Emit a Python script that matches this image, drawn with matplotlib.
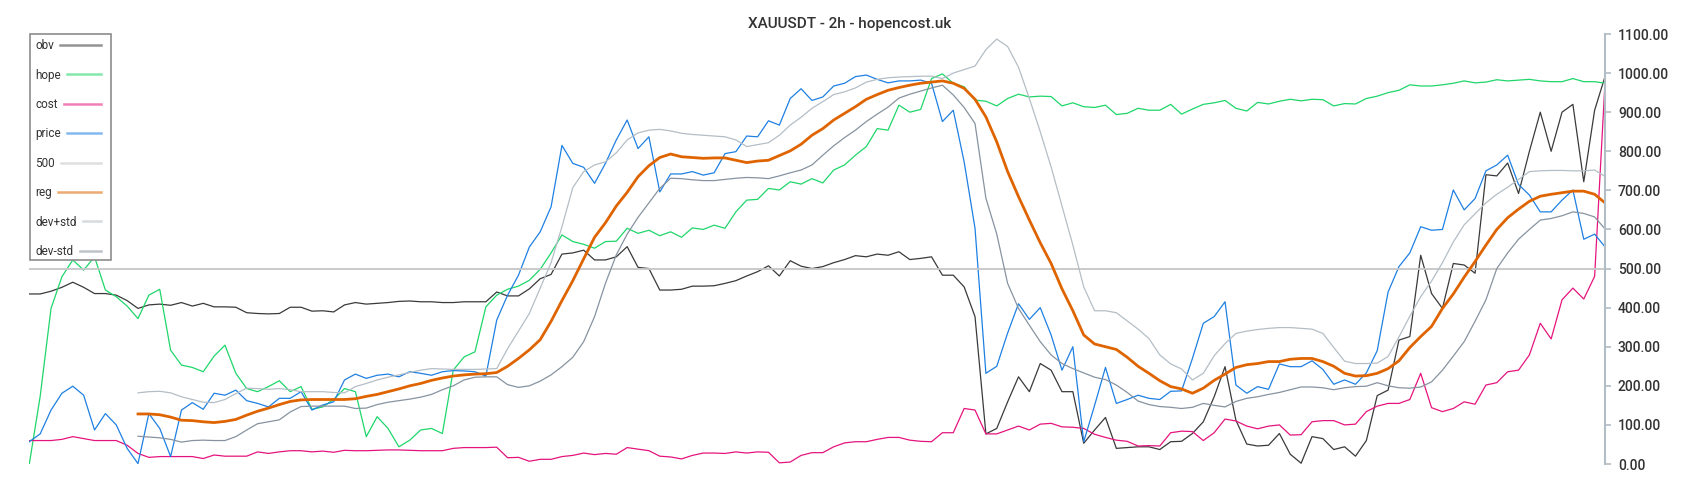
import numpy as np
import matplotlib
matplotlib.use("Agg")
import matplotlib.pyplot as plt
from matplotlib.lines import Line2D
from matplotlib.patches import Rectangle
from matplotlib.ticker import FuncFormatter

plt.rcParams['font.family'] = ['Roboto', 'DejaVu Sans']

title = "XAUUSDT - 2h - hopencost.uk"
level = 500
band_start = 10  # reg / dev bands start later than the other series

obv = [435, 435, 442, 452, 465, 452, 436, 436, 432, 418, 398, 407, 409, 406, 413, 404, 411, 402, 402, 401, 387, 385, 384, 385, 401,
       401, 391, 392, 389, 407, 413, 409, 411, 413, 416, 417, 415, 415, 413, 413, 415, 415, 415, 440, 430, 430, 448, 474, 485,
       537, 540, 547, 522, 522, 530, 556, 503, 500, 445, 445, 447, 455, 455, 456, 462, 469, 481, 492, 507, 481, 520, 506, 500, 505,
       515, 523, 533, 530, 537, 534, 543, 523, 526, 530, 483, 483, 453, 377, 77, 91, 159, 223, 185, 257, 240, 185, 185, 53,
       87, 119, 40, 42, 44, 44, 37, 57, 58, 78, 108, 172, 249, 112, 51, 46, 48, 78, 25, 2, 70, 65, 37, 44, 20,
       60, 175, 189, 317, 326, 534, 436, 398, 513, 509, 488, 740, 737, 770, 692, 800, 900, 800, 900, 920, 722, 905, 995]

hope = [0, 173, 398, 479, 522, 496, 530, 445, 428, 404, 372, 432, 447, 291, 253, 247, 236, 276, 304, 232, 193, 185, 198, 213, 185,
        198, 140, 146, 165, 193, 185, 70, 121, 91, 44, 61, 87, 91, 78, 240, 274, 287, 402, 432, 447, 455, 470, 498, 540,
        586, 569, 562, 552, 569, 570, 603, 590, 598, 584, 594, 580, 604, 600, 611, 603, 645, 675, 677, 705, 701, 722, 716, 730, 719,
        752, 765, 790, 812, 858, 854, 918, 900, 907, 986, 998, 974, 965, 931, 928, 916, 935, 946, 939, 941, 940, 916, 924, 914,
        912, 918, 894, 897, 910, 905, 905, 920, 895, 908, 920, 924, 930, 910, 903, 925, 921, 928, 933, 929, 933, 932, 916, 922, 921,
        935, 941, 950, 956, 970, 967, 967, 970, 974, 980, 975, 977, 983, 980, 982, 984, 980, 978, 978, 986, 978, 978, 974]

cost = [60, 60, 60, 63, 70, 65, 60, 60, 60, 48, 27, 17, 19, 19, 19, 19, 14, 23, 20, 20, 20, 31, 27, 31, 34,
        34, 31, 33, 30, 35, 34, 34, 35, 36, 36, 35, 34, 34, 34, 40, 42, 42, 42, 43, 16, 17, 7, 12, 12,
        19, 22, 28, 24, 27, 25, 42, 38, 34, 20, 18, 13, 22, 28, 28, 27, 31, 28, 31, 30, 3, 5, 22, 29, 29,
        44, 54, 57, 57, 63, 68, 68, 61, 58, 57, 80, 80, 142, 138, 77, 77, 87, 97, 87, 102, 104, 95, 94, 91,
        76, 68, 61, 58, 46, 47, 46, 80, 84, 83, 60, 80, 115, 110, 97, 90, 97, 100, 74, 75, 108, 111, 111, 100, 102,
        134, 148, 155, 155, 165, 232, 144, 134, 142, 159, 153, 202, 208, 236, 240, 279, 360, 320, 420, 450, 422, 480, 1000]

price = [57, 77, 138, 181, 199, 176, 87, 129, 100, 40, 1, 129, 91, 19, 138, 157, 140, 181, 176, 189, 162, 155, 146, 168, 168,
         185, 138, 151, 159, 215, 230, 219, 227, 230, 223, 236, 232, 227, 236, 239, 238, 236, 225, 368, 432, 483, 555, 594, 658,
         815, 769, 759, 718, 769, 829, 880, 807, 837, 696, 742, 742, 748, 739, 745, 794, 799, 839, 837, 878, 867, 935, 960, 930, 939,
         967, 974, 991, 995, 984, 975, 980, 980, 982, 974, 876, 905, 773, 603, 232, 250, 335, 410, 370, 400, 330, 240, 300, 57,
         150, 247, 155, 165, 176, 168, 165, 186, 187, 270, 360, 377, 415, 202, 181, 198, 191, 256, 249, 249, 264, 242, 204, 215, 204,
         233, 290, 440, 505, 540, 607, 598, 600, 701, 650, 679, 750, 765, 790, 715, 688, 645, 645, 675, 701, 575, 588, 554]

reg = [128, 128, 126, 120, 112, 111, 108, 106, 109, 114, 125, 135, 143, 152, 160,
       164, 165, 165, 165, 165, 167, 173, 178, 185, 192, 200, 206, 214, 220, 225, 228, 230, 231, 234, 250, 270, 292, 318, 365,
       418, 469, 525, 580, 617, 660, 695, 735, 763, 784, 793, 786, 784, 782, 783, 783, 777, 771, 775, 777, 789, 801, 818, 841, 858,
       880, 897, 914, 933, 945, 956, 963, 969, 974, 977, 980, 974, 961, 933, 888, 824, 748, 684, 624, 566, 513, 448, 392, 330,
       307, 300, 293, 273, 250, 232, 213, 198, 192, 181, 194, 214, 230, 247, 254, 257, 262, 262, 268, 270, 270, 262, 250, 232, 225,
       226, 232, 244, 264, 298, 326, 352, 398, 435, 478, 518, 560, 600, 630, 652, 672, 685, 690, 694, 698, 698, 690, 667]

dev_plus = [182, 185, 186, 182, 172, 165, 158, 157, 165, 180, 194, 193, 191, 193, 190,
            185, 185, 185, 183, 182, 198, 206, 215, 222, 228, 234, 240, 244, 243, 242, 242, 242, 243, 244, 295, 340, 385, 450, 515,
            607, 707, 748, 765, 773, 796, 829, 847, 854, 856, 852, 846, 843, 841, 839, 837, 829, 812, 817, 822, 841, 867, 887, 910, 927,
            945, 952, 962, 977, 984, 988, 990, 991, 992, 992, 986, 1000, 1009, 1018, 1060, 1087, 1068, 1015, 935, 850, 760, 660, 560, 453,
            392, 392, 387, 366, 345, 321, 279, 256, 243, 215, 232, 277, 308, 334, 340, 344, 347, 349, 349, 347, 345, 334, 298, 263, 257,
            257, 258, 275, 325, 378, 428, 468, 515, 568, 612, 640, 668, 690, 708, 728, 748, 750, 751, 751, 750, 750, 752, 735]

dev_minus = [71, 69, 67, 63, 56, 60, 61, 60, 60, 70, 87, 103, 108, 113, 133,
             147, 148, 148, 148, 148, 142, 143, 152, 158, 162, 166, 171, 178, 190, 200, 215, 222, 223, 223, 203, 196, 200, 212, 228,
             249, 273, 313, 377, 462, 535, 588, 631, 668, 705, 731, 730, 727, 725, 725, 728, 731, 733, 732, 730, 737, 745, 752, 765, 790,
             814, 835, 854, 876, 895, 913, 936, 946, 954, 962, 969, 944, 912, 871, 680, 588, 462, 398, 355, 313, 279, 257, 244, 233,
             222, 216, 202, 183, 161, 152, 147, 145, 142, 145, 155, 150, 146, 160, 168, 172, 178, 183, 190, 197, 197, 195, 190, 195, 198,
             199, 208, 200, 195, 194, 197, 210, 240, 276, 313, 365, 420, 500, 540, 575, 600, 624, 628, 635, 645, 641, 632, 600]

labels = ['obv', 'hope', 'cost', 'price', '500', 'reg', 'dev+std', 'dev-std']
colors = ['#3a3a3a', '#1fd66a', '#e5147d', '#1e80e3', '#c6c6c6', '#df6400', '#b4bec6', '#8793a0']

n = len(price)
x = np.arange(n)
xb = x[band_start:]

fig = plt.figure(figsize=(17, 5), dpi=100)
W, H = 1700, 500
ax = fig.add_axes([29.3 / W, 36 / H, (1605.5 - 29.3) / W, 430 / H])

ax.plot(x, obv, color=colors[0], lw=0.9)
ax.plot(x, hope, color=colors[1], lw=0.9)
ax.plot(x, cost, color=colors[2], lw=0.9)
ax.plot(x, price, color=colors[3], lw=0.9)
ax.plot(x, np.full(n, level), color=colors[4], lw=1.3)
ax.plot(xb, reg, color=colors[5], lw=2.0)
ax.plot(xb, dev_plus, color=colors[6], lw=0.9)
ax.plot(xb, dev_minus, color=colors[7], lw=0.9)

ax.set_xlim(0, n - 1)
ax.set_ylim(0, 1100)
for s in ['left', 'top', 'bottom']:
    ax.spines[s].set_visible(False)
ax.spines['right'].set_color('#b3bdc5')
ax.spines['right'].set_linewidth(1.5)
ax.set_xticks([])
ax.yaxis.tick_right()
ax.set_yticks(range(0, 1101, 100))
ax.yaxis.set_major_formatter(FuncFormatter(lambda v, p: f"{v:.2f}"))
ax.tick_params(axis='y', colors='#b3bdc5', length=4, width=1.2, pad=5,
               labelsize=10, labelcolor='#333333')
for t in ax.get_yticklabels():
    t.set_fontweight('medium')

fig.text(0.5, 1 - 24 / H, title, ha='center', va='center', fontsize=11,
         color='#333333', fontweight='medium')

# legend box drawn by hand: label on the left, line filling the rest
box = Rectangle((30 / W, 1 - 259.7 / H), 81 / W, 225.4 / H, transform=fig.transFigure,
                facecolor='white', edgecolor='#8c8c8c', lw=1.2, zorder=10)
fig.add_artist(box)
texts = []
for k, lab in enumerate(labels):
    yc = 45 + 29.4 * k
    t = fig.text(35 / W, 1 - (yc + 4.3) / H, lab, ha='left', va='baseline',
                 fontsize=8.5, color='#333333', zorder=11)
    texts.append((t, yc))

fig.canvas.draw()
r = fig.canvas.get_renderer()
for (t, yc), c in zip(texts, colors):
    x1 = t.get_window_extent(r).x1
    fig.add_artist(Line2D([(x1 + 6.5) / W, 101 / W], [1 - yc / H, 1 - yc / H],
                          transform=fig.transFigure, color=c, alpha=0.55, lw=1.8, zorder=11))

fig.savefig("out.png", dpi=100)
